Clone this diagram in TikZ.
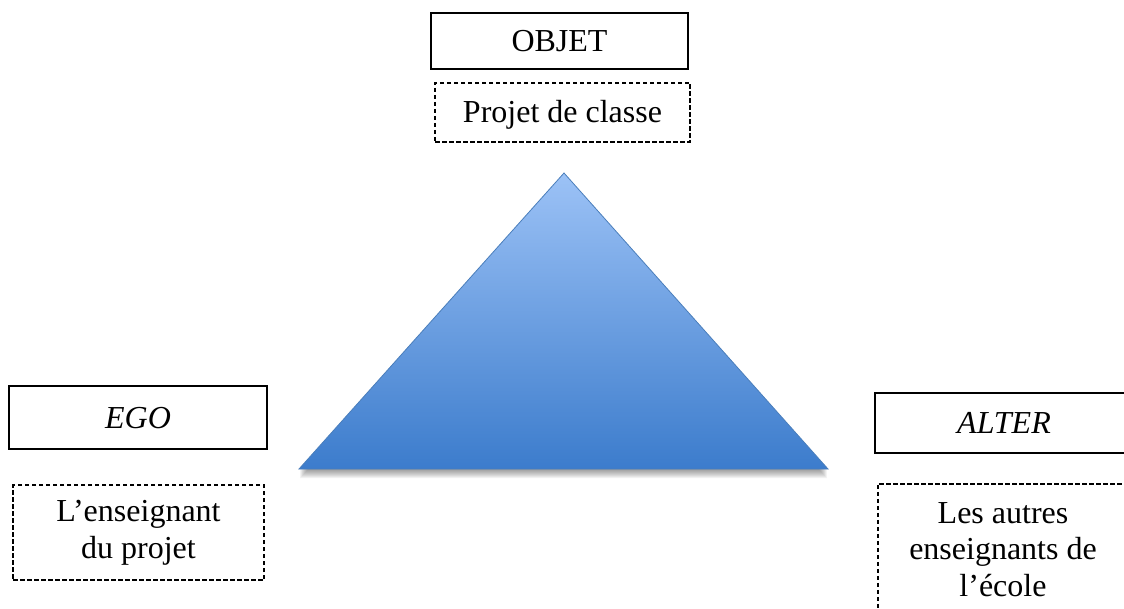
\documentclass[tikz,border=0pt]{standalone}
\usepackage{fontspec}
\setmainfont{Liberation Serif}
\definecolor{tritop}{RGB}{156,194,246}
\definecolor{tribot}{RGB}{60,124,204}
\definecolor{triedge}{RGB}{74,126,187}
\begin{document}
\begin{tikzpicture}[x=1pt,y=-1pt,
  txt/.style={font=\fontsize{32}{36.8}\selectfont},
  solidbox/.style={txt, draw=black, line width=1.7pt, inner sep=0pt, text height=21pt, text depth=0pt},
  dashbox/.style={txt, draw=black, line width=1.5pt, dash pattern=on 4.5pt off 2.5pt, inner sep=0pt},
  multi/.style={txt, align=center, inner sep=0pt}]
\useasboundingbox (0,0) rectangle (1124,609);
\clip (0,0) rectangle (1124,609);
% triangle corners
\coordinate (apex) at (564,173);
\coordinate (bl) at (299,469);
\coordinate (br) at (828,469);
% soft shadow
\foreach \s in {1,2,...,9}{
  \fill[black, opacity=0.05] ([xshift=1pt, yshift=-\s pt]bl) -- ([yshift=-\s pt]apex) -- ([xshift=-1pt, yshift=-\s pt]br) -- cycle;
}
\shade[top color=tritop, bottom color=tribot, draw=triedge, line width=0.8pt, line join=miter]
  (apex) -- (br) -- (bl) -- cycle;
% boxes
\node[solidbox, minimum width=257pt, minimum height=56pt] (objet) at (559.5,41) {OBJET};
\node[dashbox, minimum width=255pt, minimum height=59pt, text height=21pt, text depth=0pt] (projet) at (562.5,112.5) {Projet de classe};
\node[solidbox, minimum width=258pt, minimum height=63pt] (ego) at (138,417.5) {\itshape EGO};
\node[solidbox, minimum width=258pt, minimum height=60pt] (alter) at (1004,423) {\itshape ALTER};
\node[dashbox, align=center, minimum width=251pt, minimum height=95pt] (egotxt) at (138.5,532.5) {L’enseignant\\du projet};
\node[dashbox, anchor=north west, minimum width=252pt, minimum height=160pt] (altbox) at (877,483) {};
\node[multi, anchor=north] (alttxt) at (1003,502) {Les autres\\enseignants de\\l’école};
\end{tikzpicture}
\end{document}
